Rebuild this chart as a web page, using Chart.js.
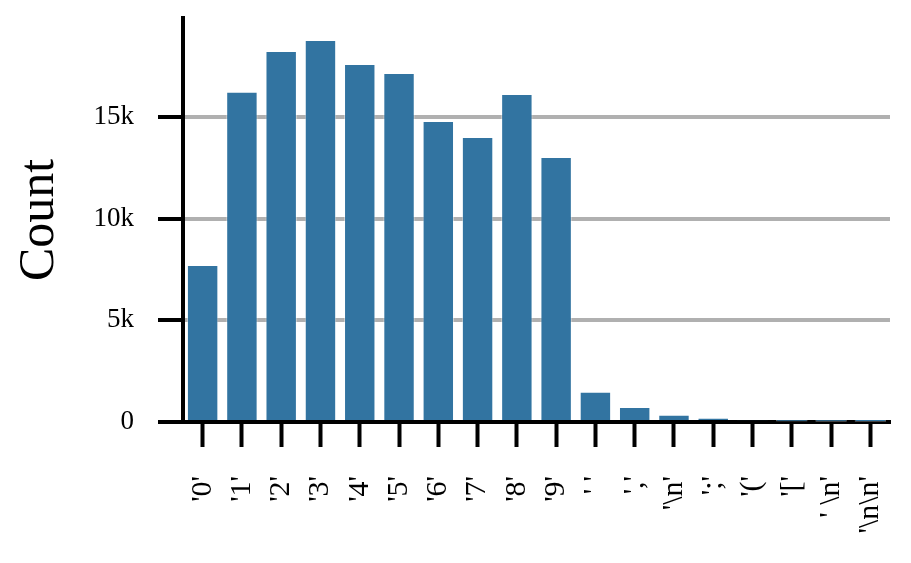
<!DOCTYPE html>
<html>
<head>
<meta charset="utf-8">
<script src="https://cdn.jsdelivr.net/npm/chart.js@4"></script>
<style>
    body { margin: 0; background: #fff; }
    #wrap { width: 911px; height: 563px; }
</style>
</head>
<body>
<div id="wrap"><canvas id="countChart" width="911" height="563"></canvas></div>
<script>
// characters and how often they appear
const char_labels = ["'0'", "'1'", "'2'", "'3'", "'4'", "'5'", "'6'", "'7'", "'8'", "'9'",
    "' '", "','", "'\\n'", "';'", "'('", "'['", "' \\n'", "'\\n\\n'"];
const char_counts = [7720, 16230, 18240, 18780, 17600, 17160, 14800, 14010, 16130, 13030,
    1490, 740, 360, 210, 80, 30, 15, 10];
const y_ticks = [0, 5000, 10000, 15000];
const y_tick_labels = ['0', '5k', '10k', '15k'];
const y_max = 19860;

const serif = "'Liberation Serif', 'DejaVu Serif', serif";

function noScalePadding(scale) {
    scale.paddingTop = 0;
    scale.paddingBottom = 0;
    scale.paddingLeft = 0;
    scale.paddingRight = 0;
}

function setCountGraph() {
    let ctx = document.getElementById('countChart').getContext('2d');

    return new Chart(ctx, {
        type: 'bar',
        data: {
            labels: char_labels,
            datasets: [{
                label: 'Count',
                data: char_counts,
                backgroundColor: '#3274a1',
                borderColor: 'rgba(255, 255, 255, 0.45)',
                borderWidth: 1,
                barPercentage: 0.8,
                categoryPercentage: 1.0
            }]
        },
        options: {
            responsive: false,
            animation: false,
            layout: {
                padding: {left: 10, top: 18, right: 21, bottom: 0}
            },
            plugins: {
                legend: {display: false},
                tooltip: {enabled: false}
            },
            scales: {
                x: {
                    offset: true,
                    afterFit: function (scale) {
                        scale.height = 141;
                        noScalePadding(scale);
                    },
                    border: {color: '#000', width: 4},
                    grid: {
                        offset: false,
                        drawOnChartArea: false,
                        tickLength: 25,
                        tickWidth: 4,
                        tickColor: '#000'
                    },
                    ticks: {
                        minRotation: 90,
                        maxRotation: 90,
                        autoSkip: false,
                        padding: 29,
                        color: '#000',
                        font: {family: serif, size: 30}
                    }
                },
                y: {
                    min: 0,
                    max: y_max,
                    afterFit: function (scale) {
                        scale.width = 173;
                        noScalePadding(scale);
                    },
                    afterBuildTicks: function (scale) {
                        scale.ticks = y_ticks.map(v => ({value: v}));
                    },
                    border: {color: '#000', width: 4},
                    grid: {
                        color: '#b0b0b0',
                        lineWidth: 4,
                        tickLength: 25,
                        tickWidth: 4,
                        tickColor: '#000'
                    },
                    ticks: {
                        padding: 24,
                        color: '#000',
                        font: {family: serif, size: 27},
                        callback: function (value) {
                            let i = y_ticks.indexOf(value);
                            return i >= 0 ? y_tick_labels[i] : '';
                        }
                    },
                    title: {
                        display: true,
                        text: 'Count',
                        color: '#000',
                        padding: {top: 0, bottom: 0},
                        font: {family: serif, size: 50, weight: 'normal'}
                    }
                }
            }
        }
    });
}

setCountGraph();
</script>
</body>
</html>
